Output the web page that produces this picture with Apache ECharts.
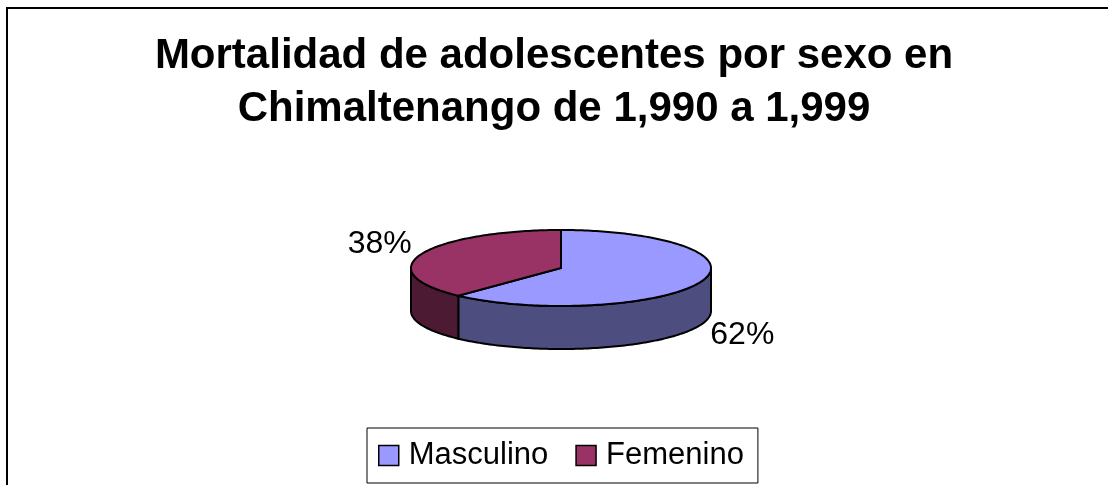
<!DOCTYPE html>
<html>
<head>
<meta charset="UTF-8">
<title>Mortalidad de adolescentes por sexo</title>
<script src="https://cdn.jsdelivr.net/npm/echarts@6/dist/echarts.min.js"></script>
<style>html,body{margin:0;padding:0;background:#fff;}</style>
</head>
<body>
<div id="main" style="width:1108px;height:485px;"></div>
<script type="text/javascript">
var categories = ['Masculino', 'Femenino'];
var values = [62, 38];
var topColors = ['#9999FF', '#993366'];
var sideColors = ['#4D4D80', '#4D1A33'];

var total = values.reduce(function (a, b) { return a + b; }, 0);
var fontName = '"Liberation Sans", Arial, sans-serif';

// pie layout: flattened ellipse + front wall to get the excel 3d look
var pieCenter = [561, 268];
var rx = 150, ry = 38, depth = 43;

function pt(t, dy) {
	return [pieCenter[0] + rx * Math.sin(t), pieCenter[1] - ry * Math.cos(t) + (dy || 0)];
}
function arc(a, b, dy) {
	var pts = [];
	var n = Math.max(2, Math.ceil(Math.abs(b - a) / 0.02));
	for (var i = 0; i <= n; i++) {
		pts.push(pt(a + (b - a) * i / n, dy));
	}
	return pts;
}

function makeRender(idx) {
	return function (params, api) {
		var before = 0;
		for (var i = 0; i < idx; i++) before += values[i];
		var v = api.value(0);
		// angles clockwise from 12 o'clock
		var a = before / total * Math.PI * 2;
		var b = (before + v) / total * Math.PI * 2;
		var children = [];
		// only the front half of the wall is visible (90..270 deg)
		var s = Math.max(a, Math.PI / 2), e = Math.min(b, Math.PI * 1.5);
		if (e > s) {
			children.push({
				type: 'polygon', z2: 0,
				shape: { points: arc(s, e, 0).concat(arc(e, s, depth)) },
				style: { fill: sideColors[idx], stroke: '#000', lineWidth: 2 }
			});
		}
		children.push({
			type: 'polygon', z2: 10,
			shape: { points: [pieCenter.slice()].concat(arc(a, b, 0)) },
			style: { fill: topColors[idx], stroke: '#000', lineWidth: 2 }
		});
		var m = (a + b) / 2;
		var lx = pieCenter[0] + rx * 1.3 * Math.sin(m);
		var ly = pieCenter[1] - ry * 1.72 * Math.cos(m) + (Math.cos(m) < 0 ? depth : 0);
		children.push({
			type: 'text', z2: 20,
			style: {
				text: Math.round(v / total * 100) + '%',
				x: lx, y: ly,
				fill: '#000',
				fontSize: 32,
				fontFamily: fontName,
				align: 'center',
				verticalAlign: 'middle'
			}
		});
		return { type: 'group', children: children };
	};
}

var chart = echarts.init(document.getElementById('main'));
var option = {
	animation: false,
	backgroundColor: '#fff',
	title: {
		text: 'Mortalidad de adolescentes por sexo en\nChimaltenango de 1,990 a 1,999',
		left: 'center',
		top: 30,
		padding: 0,
		textStyle: {
			fontSize: 42,
			fontWeight: 'bold',
			fontFamily: fontName,
			lineHeight: 53,
			color: '#000'
		}
	},
	legend: {
		data: categories,
		left: 367,
		top: 428,
		orient: 'horizontal',
		selectedMode: false,
		icon: 'rect',
		itemWidth: 20,
		itemHeight: 20,
		itemGap: 27,
		padding: [12, 14, 12, 11],
		borderColor: '#000',
		borderWidth: 1,
		itemStyle: { borderColor: '#000', borderWidth: 1.5 },
		textStyle: {
			fontSize: 31,
			fontFamily: fontName,
			color: '#000',
			padding: [0, 0, 0, 5]
		}
	},
	graphic: [{
		type: 'rect',
		silent: true,
		z: -1,
		shape: { x: 7, y: 8, width: 1300, height: 700 },
		style: { fill: null, stroke: '#000', lineWidth: 2 }
	}],
	series: categories.map(function (name, i) {
		return {
			type: 'custom',
			name: name,
			coordinateSystem: 'none',
			data: [[values[i]]],
			itemStyle: { color: topColors[i] },
			renderItem: makeRender(i)
		};
	})
};
chart.setOption(option);
</script>
</body>
</html>
